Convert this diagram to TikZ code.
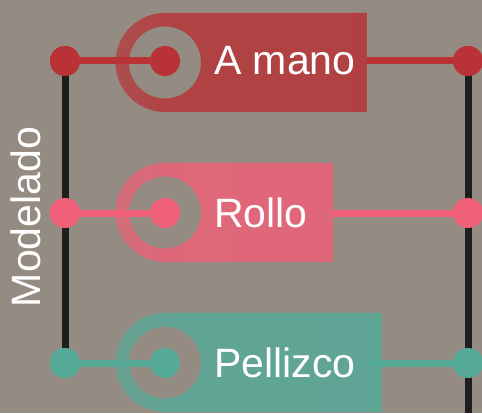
\documentclass[tikz,border=0pt]{standalone}
\usepackage{fontspec}
\setmainfont{Liberation Sans}
\usetikzlibrary{fadings}
\definecolor{bggrey}{RGB}{148,140,130}
\definecolor{postblack}{RGB}{30,30,30}
\definecolor{manored}{RGB}{184,50,54}
\definecolor{rollopink}{RGB}{240,96,120}
\definecolor{pellteal}{RGB}{85,170,152}
\pgfdeclarehorizontalshading{tagshade}{100bp}{color(0bp)=(black!60); color(35bp)=(black!5); color(100bp)=(black!0)}
\pgfdeclarefading{tagfade}{\pgfuseshading{tagshade}}
\begin{document}
\begin{tikzpicture}[x=1pt,y=1pt, line join=round,
	dot/.style={circle,fill=#1,inner sep=0pt,minimum size=30pt},
	link/.style={line width=7pt,draw=#1},
	tag/.style={fill=#1,opacity=0.85,even odd rule,path fading=tagfade},
	lbl/.style={text=white,inner sep=0pt,anchor=west,font=\fontsize{41pt}{49pt}\selectfont}]
	\fill[bggrey] (0,0) rectangle (482,413);
	\useasboundingbox (0,0) rectangle (482,413);
	% tags
	\fill[tag=manored] (367,400)--(165,400) arc[start angle=90,end angle=270,radius=49.5]--(367,301)--cycle (165,350.5) circle[radius=36];
	\fill[tag=rollopink] (333,250)--(165,250) arc[start angle=90,end angle=270,radius=49.5]--(333,151)--cycle (165,200.5) circle[radius=36];
	\fill[tag=pellteal] (382,100)--(165,100) arc[start angle=90,end angle=270,radius=49.5]--(382,1)--cycle (165,50.5) circle[radius=36];
	% dots and labels
	\node[dot=manored] (l1) at (65,352) {};
	\node[dot=manored] (h1) at (165,352) {};
	\node[dot=manored] (r1) at (468,352) {};
	\node[lbl] (t1) at (214,352) {A mano};
	\coordinate (e1) at (367,352);
	\node[dot=rollopink] (l2) at (65,200) {};
	\node[dot=rollopink] (h2) at (165,200) {};
	\node[dot=rollopink] (r2) at (468,200) {};
	\node[lbl] (t2) at (214,200) {Rollo};
	\coordinate (e2) at (333,200);
	\node[dot=pellteal] (l3) at (65,50) {};
	\node[dot=pellteal] (h3) at (165,50) {};
	\node[dot=pellteal] (r3) at (468,50) {};
	\node[lbl] (t3) at (214,50) {Pellizco};
	\coordinate (e3) at (368,50);
	\coordinate (bot) at (468,0);
	\node[text=white,rotate=90,inner sep=0pt,font=\fontsize{41pt}{49pt}\selectfont] (mod) at (26,196) {Modelado};
	% posts
	\draw[line width=7pt,postblack] (l1.center)--(l3.center);
	\draw[line width=7pt,postblack] (r1.center)--(bot);
	% links
	\draw[link=manored] (l1)--(h1) (e1)--(r1);
	\draw[link=rollopink] (l2)--(h2) (e2)--(r2);
	\draw[link=pellteal] (l3)--(h3) (e3)--(r3);
	\node[dot=manored] at (l1) {};
	\node[dot=manored] at (r1) {};
	\node[dot=rollopink] at (l2) {};
	\node[dot=rollopink] at (r2) {};
	\node[dot=pellteal] at (l3) {};
	\node[dot=pellteal] at (r3) {};
\end{tikzpicture}
\end{document}
